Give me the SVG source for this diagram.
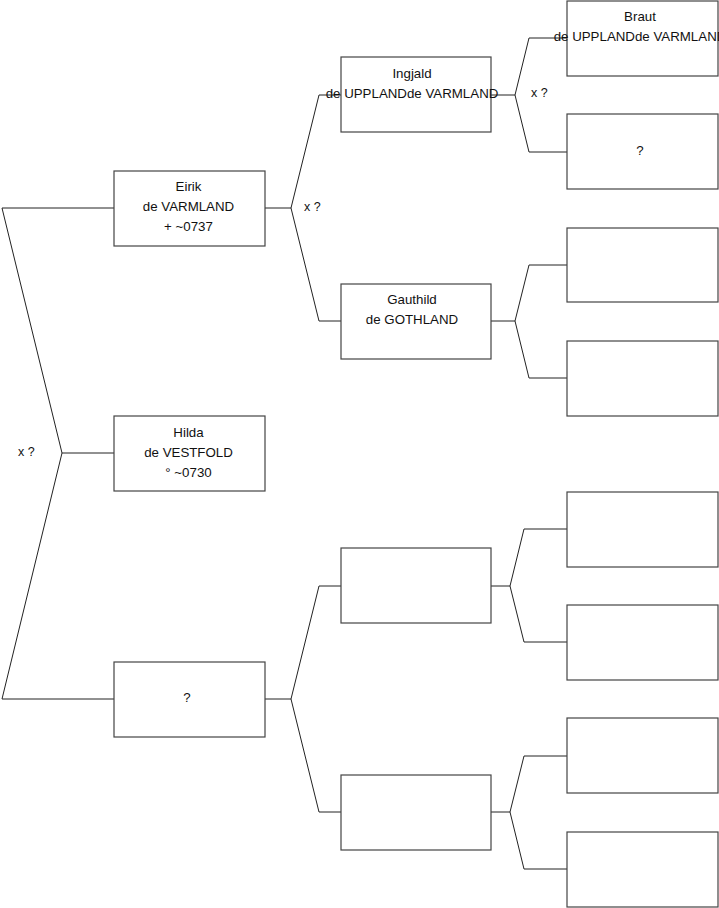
<svg xmlns="http://www.w3.org/2000/svg" width="719" height="908" viewBox="0 0 719 908">
<style>
.box{fill:#fff;stroke:#444;stroke-width:1.2}
.ln{fill:none;stroke:#222;stroke-width:1}
text{font-family:"Liberation Sans",Arial,sans-serif;font-size:13.3px;fill:#111;text-anchor:middle}
.lb{text-anchor:start;font-size:12.5px}
</style>
<rect width="719" height="908" fill="#fff"/>
<g id="connectors">
<path class="ln" d="M114,208 H2 L62,453 L2,699 H114 M62,453 H114"/>
<path class="ln" d="M265,208 H291 L319,95 H341 M291,208 L319,321 H341"/>
<path class="ln" d="M491,95 H515 L529,38 H567 M515,95 L529,152 H567"/>
<path class="ln" d="M491,321 H515 L529,265 H567 M515,321 L529,378 H567"/>
<path class="ln" d="M265,699 H291 L319,586 H341 M291,699 L319,812 H341"/>
<path class="ln" d="M491,586 H510 L524,529 H567 M510,586 L524,642 H567"/>
<path class="ln" d="M491,812 H510 L524,756 H567 M510,812 L524,869 H567"/>
<text class="lb" x="18" y="456">x ?</text>
<text class="lb" x="304" y="211">x ?</text>
<text class="lb" x="531" y="97">x ?</text>
</g>
<g id="eirik"><rect class="box" x="114" y="171" width="151" height="75"/><text x="188.5" y="191">Eirik</text><text x="188.5" y="211">de VARMLAND</text><text x="188.5" y="231">+ ~0737</text></g>
<g id="hilda"><rect class="box" x="114" y="416" width="151" height="75"/><text x="188.5" y="437">Hilda</text><text x="188.5" y="457">de VESTFOLD</text><text x="188.5" y="477">° ~0730</text></g>
<g id="unk1"><rect class="box" x="114" y="662" width="151" height="75"/><text x="187" y="702">?</text></g>
<g id="ingjald"><rect class="box" x="341" y="57" width="150" height="75"/><text x="412" y="78">Ingjald</text><text x="412" y="98">de UPPLANDde VARMLAND</text></g>
<g id="gauthild"><rect class="box" x="341" y="284" width="150" height="75"/><text x="412" y="304">Gauthild</text><text x="412" y="324">de GOTHLAND</text></g>
<g id="c2b"><rect class="box" x="341" y="548" width="150" height="75"/></g>
<g id="c2c"><rect class="box" x="341" y="775" width="150" height="75"/></g>
<g id="braut"><rect class="box" x="567" y="1" width="151" height="75"/><text x="640" y="21">Braut</text><text x="640" y="41">de UPPLANDde VARMLAND</text></g>
<g id="unk2"><rect class="box" x="567" y="114" width="151" height="75"/><text x="640" y="155">?</text></g>
<g id="c3c"><rect class="box" x="567" y="228" width="151" height="74"/></g>
<g id="c3d"><rect class="box" x="567" y="341" width="151" height="75"/></g>
<g id="c3e"><rect class="box" x="567" y="492" width="151" height="75"/></g>
<g id="c3f"><rect class="box" x="567" y="605" width="151" height="75"/></g>
<g id="c3g"><rect class="box" x="567" y="718" width="151" height="75"/></g>
<g id="c3h"><rect class="box" x="567" y="832" width="151" height="75"/></g>
</svg>
